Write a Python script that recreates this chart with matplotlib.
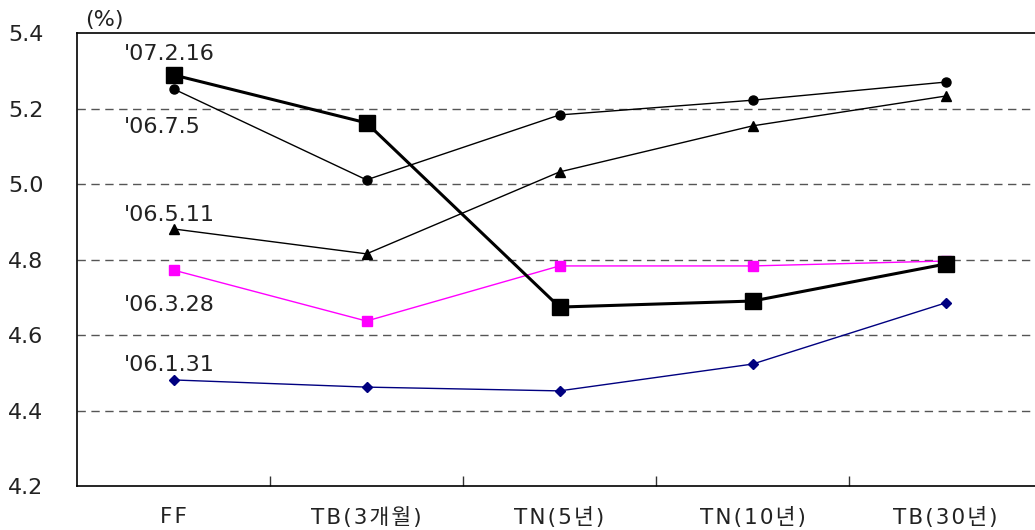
import numpy as np
import matplotlib.pyplot as plt

plt.rcParams['font.family'] = ['DejaVu Sans', 'Noto Sans CJK KR']

# ── data ──
categories = ["FF", "TB(3개월)", "TN(5년)", "TN(10년)", "TB(30년)"]
s_070216 = [5.289, 5.162, 4.674, 4.690, 4.788]
s_060705 = [5.252, 5.011, 5.183, 5.222, 5.270]
s_060511 = [4.881, 4.815, 5.032, 5.154, 5.233]
s_060328 = [4.772, 4.637, 4.783, 4.783, 4.796]
s_060131 = [4.481, 4.462, 4.452, 4.523, 4.685]
labels = ["'07.2.16", "'06.7.5", "'06.5.11", "'06.3.28", "'06.1.31"]
label_y = [5.345, 5.150, 4.918, 4.680, 4.520]
yticks = [4.2, 4.4, 4.6, 4.8, 5.0, 5.2, 5.4]


def spaced(s):
    # original font has slightly wider letter spacing
    return "\u200a".join(s)


fig = plt.figure(figsize=(10.35, 5.30), dpi=100)
ax = fig.add_axes([0.0744, 0.083, 0.9324, 0.8547])

x = np.arange(len(categories))

ax.plot(x, s_060131, color="#000080", lw=1.0, marker="D", ms=5.5, zorder=3)
ax.plot(x, s_060328, color="#ff00ff", lw=1.0, marker="s", ms=7.5, zorder=3)
ax.plot(x, s_060511, color="black", lw=1.0, marker="^", ms=7, zorder=3)
ax.plot(x, s_060705, color="black", lw=1.0, marker="o", ms=6.5, zorder=3)
ax.plot(x, s_070216, color="black", lw=2.2, marker="s", ms=11, zorder=4)

for lab, ly in zip(labels, label_y):
    ax.text(-0.255, ly, lab, fontsize=16, color="#222222", va="center", ha="left")

ax.set_xlim(-0.5, len(categories) - 0.5)
ax.set_ylim(4.2, 5.4)
ax.set_yticks(yticks)
ax.set_yticklabels([f"{v:.1f}" for v in yticks], fontsize=16, color="#222222")
ax.tick_params(axis="y", length=0, pad=24)

ax.set_xticks(x)
ax.set_xticklabels([spaced(c) for c in categories], fontsize=15.5, color="#222222")
ax.tick_params(axis="x", which="major", length=0, pad=15)
ax.set_xticks(np.arange(0.5, len(categories) - 1, 1), minor=True)
ax.tick_params(axis="x", which="minor", direction="in", length=7, width=1, color="#333333")

for v in yticks[1:-1]:
    ax.axhline(v, color="#555555", lw=1.0, ls=(0, (6, 4)), zorder=1)

for s in ax.spines.values():
    s.set_color("black")
    s.set_linewidth(1.2)

fig.text(0.082, 0.963, "(%)", fontsize=16, color="#222222", va="center", ha="left")

plt.savefig("out.png", dpi=100)
